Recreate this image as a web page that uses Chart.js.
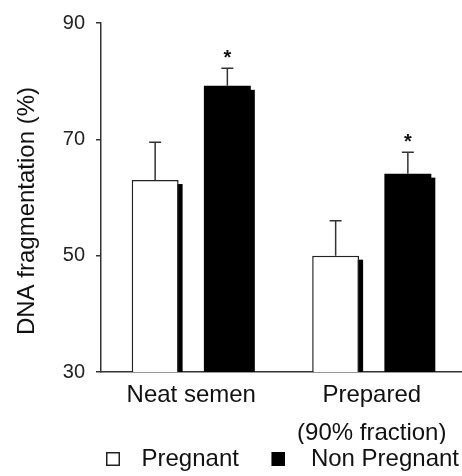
<!DOCTYPE html>
<html>
<head>
<meta charset="utf-8">
<script src="https://cdn.jsdelivr.net/npm/chart.js@4.4.1/dist/chart.umd.min.js"></script>
<style>
  html, body { margin: 0; padding: 0; background: #fff; }
</style>
</head>
<body>
<canvas id="myChart" width="462" height="476"></canvas>
<script>
// Valores
const categories = ['Neat semen', ['Prepared', '(90% fraction)']];
const seriesNames = ['Pregnant', 'Non Pregnant'];
const pregnant = [63, 50];
const pregnantErr = [6.5, 6];
const nonPregnant = [79.2, 64.1];
const nonPregnantErr = [3, 3.7];
const nonPregnantMarks = ['*', '*'];
const yTicks = [30, 50, 70, 90];
const yTitle = 'DNA fragmentation (%)';

const FONT = "'Liberation Sans', Arial, sans-serif";
const INK = '#111';
const AXIS = '#333';

// Cuadrito de la leyenda dibujado en un canvas aparte
function legendBox(fill, offset) {
    const size = 14;
    const c = document.createElement('canvas');
    c.width = 2 * (offset + size);
    c.height = size;
    const g = c.getContext('2d');
    const x = 2 * offset + size;
    g.fillStyle = fill;
    g.fillRect(x, 0, size, size);
    if (fill !== '#000') {
        g.strokeStyle = '#222';
        g.lineWidth = 1.5;
        g.strokeRect(x + 0.75, 0.75, size - 1.5, size - 1.5);
    }
    return c;
}
const boxes = [legendBox('#fff', 5), legendBox('#000', 1)];

// Sombra, barras de error, asteriscos y título del eje Y
const barExtras = {
    id: 'barExtras',
    beforeDatasetsDraw: (chart) => {
        const {ctx, chartArea} = chart;
        ctx.save();
        ctx.beginPath();
        ctx.rect(chartArea.left, chartArea.top, chartArea.width, chartArea.height);
        ctx.clip();
        ctx.fillStyle = '#000';
        chart.data.datasets.forEach((dataset, i) => {
            chart.getDatasetMeta(i).data.forEach((bar) => {
                ctx.fillRect(bar.x - bar.width / 2 + 4, bar.y + 4, bar.width, bar.base - bar.y);
            });
        });
        ctx.restore();
    },
    afterDatasetsDraw: (chart) => {
        const ctx = chart.ctx;
        const yScale = chart.scales.y;
        ctx.save();
        ctx.strokeStyle = AXIS;
        ctx.lineWidth = 1.5;
        ctx.fillStyle = INK;
        ctx.font = 'bold 20px ' + FONT;
        ctx.textAlign = 'center';
        ctx.textBaseline = 'alphabetic';
        chart.data.datasets.forEach((dataset, i) => {
            chart.getDatasetMeta(i).data.forEach((bar, j) => {
                const top = yScale.getPixelForValue(dataset.data[j] + dataset.errors[j]);
                ctx.beginPath();
                ctx.moveTo(bar.x, bar.y);
                ctx.lineTo(bar.x, top);
                ctx.moveTo(bar.x - 6, top);
                ctx.lineTo(bar.x + 6, top);
                ctx.stroke();
                if (dataset.marks && dataset.marks[j]) {
                    ctx.fillText(dataset.marks[j], bar.x, top - 4.5);
                }
            });
        });
        // Título del eje Y
        ctx.font = '24px ' + FONT;
        ctx.textBaseline = 'middle';
        ctx.translate(27, 211);
        ctx.rotate(-Math.PI / 2);
        ctx.fillText(yTitle, 0, 0);
        ctx.restore();
    }
};

const ctx = document.getElementById('myChart').getContext('2d');
new Chart(ctx, {
    type: 'bar',
    data: {
        labels: categories,
        datasets: [{
            label: seriesNames[0],
            data: pregnant,
            errors: pregnantErr,
            backgroundColor: '#fff',
            borderColor: '#222',
            borderWidth: 1.5
        }, {
            label: seriesNames[1],
            data: nonPregnant,
            errors: nonPregnantErr,
            marks: nonPregnantMarks,
            backgroundColor: '#000',
            borderWidth: 0
        }]
    },
    options: {
        responsive: false,
        animation: false,
        devicePixelRatio: 1,
        barPercentage: 0.65,
        categoryPercentage: 0.8,
        layout: { padding: { top: 20, right: 0, bottom: 0, left: 0 } },
        scales: {
            x: {
                grid: { display: false, drawTicks: false },
                border: { display: true, color: AXIS, width: 1.5 },
                ticks: {
                    color: INK,
                    padding: 4,
                    maxRotation: 0,
                    font: { family: FONT, size: 24, lineHeight: 1.58 }
                },
                afterFit: (scale) => { scale.height = 72; }
            },
            y: {
                min: 30,
                max: 90,
                afterBuildTicks: (scale) => { scale.ticks = yTicks.map(v => ({ value: v })); },
                grid: { drawOnChartArea: false, drawTicks: true, tickLength: 5, color: AXIS, lineWidth: 1.5 },
                border: { display: true, color: AXIS, width: 1.5 },
                ticks: {
                    color: '#222',
                    padding: 11,
                    font: { family: FONT, size: 20 }
                },
                afterFit: (scale) => { scale.width = 101; }
            }
        },
        plugins: {
            legend: {
                position: 'bottom',
                align: 'end',
                maxHeight: 32,
                labels: {
                    color: INK,
                    usePointStyle: true,
                    pointStyleWidth: 57,
                    padding: 3,
                    font: { family: FONT, size: 24 },
                    generateLabels: (chart) => chart.data.datasets.map((ds, i) => ({
                        text: ds.label,
                        pointStyle: boxes[i],
                        datasetIndex: i,
                        hidden: false,
                        lineWidth: 0,
                        fontColor: INK
                    }))
                }
            },
            tooltip: { enabled: false }
        }
    },
    plugins: [barExtras]
});
</script>
</body>
</html>
